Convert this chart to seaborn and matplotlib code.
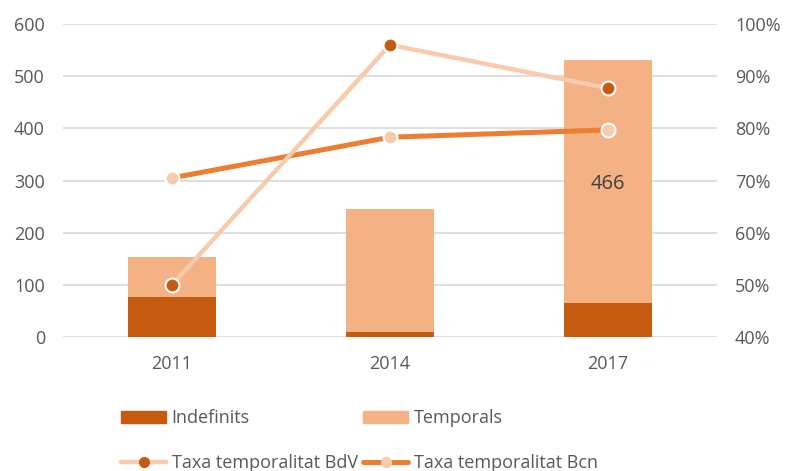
import numpy as np
import pandas as pd
import matplotlib
matplotlib.use("Agg")
import matplotlib.pyplot as plt
import seaborn as sns
from matplotlib.lines import Line2D
from matplotlib.patches import Patch

years = ["2011", "2014", "2017"]
indefinits = [77, 9, 65]
temporals = [77, 236, 466]
taxa_bdv = [0.50, 0.96, 0.877]
taxa_bcn = [0.705, 0.783, 0.797]

c_indef = "#C55A11"
c_temp = "#F4B183"
c_bdv = "#F8CBAD"
c_bcn = "#ED7D31"
c_text = "#595959"

sns.set_theme(style="white")
plt.rcParams['font.family'] = ['Open Sans', 'DejaVu Sans']

df = pd.DataFrame({"year": years, "indefinits": indefinits, "temporals": temporals})
df["total"] = df["indefinits"] + df["temporals"]

fig = plt.figure(figsize=(7.87, 4.71), dpi=100)
ax = fig.add_axes([0.080, 0.2845, 0.831, 0.6645])

# stacked bars: total first, then the bottom segment over it
sns.barplot(data=df, x="year", y="total", color=c_temp, width=0.4, saturation=1,
            linewidth=0, ax=ax, zorder=2)
sns.barplot(data=df, x="year", y="indefinits", color=c_indef, width=0.4, saturation=1,
            linewidth=0, ax=ax, zorder=3)

ax.set_ylim(0, 600)
ax.set_yticks(range(0, 601, 100))
ax.set_xlim(-0.5, 2.5)
ax.grid(axis="y", color="#D9D9D9", linewidth=1.2, zorder=0)
ax.set_axisbelow(True)
ax.set_xlabel("")
ax.set_ylabel("")
ax.tick_params(axis="both", length=0, labelsize=13, labelcolor=c_text)
ax.tick_params(axis="x", pad=13)
ax.tick_params(axis="y", pad=13)
sns.despine(ax=ax, left=True, bottom=True)

# data label on 2017 temporals
i = 2
ax.text(i, df["indefinits"][i] + df["temporals"][i] / 2 - 4, str(df["temporals"][i]),
        ha="center", va="center", fontsize=14.5, color="#404040", zorder=5)

ax2 = ax.twinx()
pos = np.arange(len(years))
sns.lineplot(x=pos, y=taxa_bcn, ax=ax2, color=c_bcn, linewidth=3.6, marker="o",
             markersize=10, markerfacecolor=c_bdv, markeredgecolor="white", markeredgewidth=1.5, zorder=3)
sns.lineplot(x=pos, y=taxa_bdv, ax=ax2, color=c_bdv, linewidth=3.2, marker="o",
             markersize=10, markerfacecolor=c_indef, markeredgecolor="white", markeredgewidth=1.5, zorder=4)
ax2.set_ylim(0.40, 1.00)
ax2.set_yticks(np.arange(0.4, 1.001, 0.1))
ax2.set_yticklabels([f"{int(round(v * 100))}%" for v in np.arange(0.4, 1.001, 0.1)])
ax2.tick_params(axis="y", length=0, labelsize=13, labelcolor=c_text, pad=13)
ax2.set_xlim(-0.5, 2.5)
sns.despine(ax=ax2, left=True, bottom=True, right=True)
ax2.grid(False)

handles = [
    Patch(color=c_indef),
    Line2D([0], [0], color=c_bdv, linewidth=3.2, marker="o", markersize=7,
           markerfacecolor=c_indef, markeredgecolor=c_indef),
    Patch(color=c_temp),
    Line2D([0], [0], color=c_bcn, linewidth=3.6, marker="o", markersize=7,
           markerfacecolor=c_bdv, markeredgecolor=c_bdv),
]
labels = ["Indefinits", "Taxa temporalitat BdV", "Temporals", "Taxa temporalitat Bcn"]
fig.legend(handles, labels, ncol=2, loc="upper left", bbox_to_anchor=(121 / 787, 0.131),
           frameon=False, fontsize=13, labelcolor=c_text, handlelength=2.5,
           handletextpad=0.3, columnspacing=0.3, labelspacing=1.5, borderaxespad=0,
           borderpad=0)

fig.savefig("out.png", dpi=100)
